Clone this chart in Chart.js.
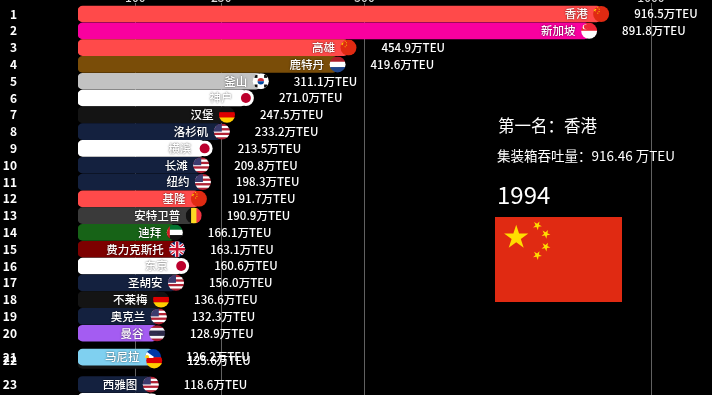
<!DOCTYPE html>
<html>
<head>
<meta charset="utf-8">
<title>集装箱吞吐量 1994</title>
<script src="https://cdn.jsdelivr.net/npm/chart.js@4/dist/chart.umd.min.js"></script>
<style>
    html, body { margin: 0; padding: 0; width: 712px; height: 395px; background: #000; overflow: hidden; }
    body { position: relative; font-family: "Noto Sans CJK SC", sans-serif; color: #fff; }
    #grafica { position: absolute; left: 0; top: -20px; }
    .info { position: absolute; white-space: nowrap; line-height: 1; }
</style>
</head>
<body>
<canvas id="grafica" width="712" height="430"></canvas>
<div class="info" style="left:498px;top:117px;font-size:16.5px">第一名：香港</div>
<div class="info" style="left:497px;top:149px;font-size:13.5px">集装箱吞吐量：916.46 万TEU</div>
<div class="info" style="left:497px;top:182px;font-size:24px">1994</div>
<script>
// Datos. Rank 22 va antes que 21 porque la barra de Manila queda encima
const ranks = [1, 2, 3, 4, 5, 6, 7, 8, 9, 10, 11, 12, 13, 14, 15, 16, 17, 18, 19, 20, 22, 21, 23, 24];
const cities = ['香港', '新加坡', '高雄', '鹿特丹', '釜山', '神户', '汉堡', '洛杉矶', '横滨', '长滩', '纽约', '基隆', '安特卫普', '迪拜', '费力克斯托', '东京', '圣胡安', '不莱梅', '奥克兰', '曼谷', '', '马尼拉', '西雅图', ''];
const countries = ['cn', 'sg', 'cn', 'nl', 'kr', 'jp', 'de', 'us', 'jp', 'us', 'us', 'cn', 'be', 'ae', 'gb', 'jp', 'us', 'de', 'us', 'th', 'de', 'ph', 'us', 'jp'];
// valor mostrado en la etiqueta (万TEU)
const throughput = [916.5, 891.8, 454.9, 419.6, 311.1, 271.0, 247.5, 233.2, 213.5, 209.8, 198.3, 191.7, 190.9, 166.1, 163.1, 160.6, 156.0, 136.6, 132.3, 128.9, 125.6, 126.2, 118.6, null];
// el cuadro esta a mitad de animacion: largo real de cada barra y su fila
const barLengths = [913, 892, 472, 453, 319, 293, 260, 251, 221, 215, 218, 211, 202, 169, 173, 180, 171, 145, 141, 138, 133, 131, 127, 128];
const rowPositions = [1, 2, 3, 4, 5, 6, 7, 8, 9, 10, 11, 12, 13, 14, 15, 16, 17, 18, 19, 20, 21.62, 21.42, 23.05, 24.05];
const tickValues = [100, 250, 500, 1000];

const countryColors = { cn: '#ff4a4a', sg: '#f9009f', nl: '#7a4d08', kr: '#c2c2c2', jp: '#ffffff', de: '#141414', us: '#14213f', be: '#3a3a3a', ae: '#176317', gb: '#7d0000', th: '#a45cf2', ph: '#7fd0f0' };

const fuente = '"Noto Sans CJK SC", sans-serif';

function estrella(ctx, cx, cy, r, giro) {
    ctx.beginPath();
    for (let i = 0; i < 10; i++) {
        const rad = i % 2 === 0 ? r : r * 0.38;
        const ang = -Math.PI / 2 + giro + i * Math.PI / 5;
        ctx.lineTo(cx + rad * Math.cos(ang), cy + rad * Math.sin(ang));
    }
    ctx.closePath();
    ctx.fill();
}

function franjas(ctx, x, y, w, h, colores) {
    colores.forEach(function(c, i) {
        ctx.fillStyle = c;
        ctx.fillRect(x, y + h * i / colores.length, w, h / colores.length + 0.5);
    });
}

// Dibuja la bandera de cada pais en el rectangulo dado
function bandera(ctx, code, x, y, w, h) {
    if (code === 'cn') {
        ctx.fillStyle = '#e02a12';
        ctx.fillRect(x, y, w, h);
        ctx.fillStyle = '#ffdd00';
        estrella(ctx, x + w * 0.167, y + h * 0.24, h * 0.15, 0);
        [[0.333, 0.1], [0.4, 0.2], [0.4, 0.35], [0.333, 0.45]].forEach(function(p) {
            estrella(ctx, x + w * p[0], y + h * p[1], h * 0.055, 0.5);
        });
    } else if (code === 'sg') {
        franjas(ctx, x, y, w, h, ['#ee2536', '#ffffff']);
        ctx.fillStyle = '#fff';
        ctx.beginPath();
        ctx.arc(x + w * 0.3, y + h * 0.25, h * 0.16, 0, Math.PI * 2);
        ctx.fill();
        ctx.fillStyle = '#ee2536';
        ctx.beginPath();
        ctx.arc(x + w * 0.35, y + h * 0.25, h * 0.15, 0, Math.PI * 2);
        ctx.fill();
    } else if (code === 'nl') {
        franjas(ctx, x, y, w, h, ['#ae1c28', '#ffffff', '#21468b']);
    } else if (code === 'de') {
        franjas(ctx, x, y, w, h, ['#111111', '#dd0000', '#ffce00']);
    } else if (code === 'th') {
        franjas(ctx, x, y, w, h, ['#a51931', '#f4f5f8', '#2d2a4a', '#2d2a4a', '#f4f5f8', '#a51931']);
    } else if (code === 'kr') {
        ctx.fillStyle = '#fff';
        ctx.fillRect(x, y, w, h);
        const cx = x + w / 2, cy = y + h / 2, r = h * 0.2;
        ctx.fillStyle = '#cd2e3a';
        ctx.beginPath();
        ctx.arc(cx, cy, r, Math.PI, 0);
        ctx.fill();
        ctx.fillStyle = '#0047a0';
        ctx.beginPath();
        ctx.arc(cx, cy, r, 0, Math.PI);
        ctx.fill();
        ctx.fillStyle = '#111';
        [[-0.3, -0.3], [0.3, -0.3], [-0.3, 0.3], [0.3, 0.3]].forEach(function(p) {
            ctx.fillRect(cx + h * p[0] - 1.5, cy + h * p[1] - 1.5, 3, 3);
        });
    } else if (code === 'jp') {
        ctx.fillStyle = '#fff';
        ctx.fillRect(x, y, w, h);
        ctx.fillStyle = '#bc002d';
        ctx.beginPath();
        ctx.arc(x + w / 2, y + h / 2, h * 0.31, 0, Math.PI * 2);
        ctx.fill();
    } else if (code === 'us') {
        for (let i = 0; i < 7; i++) {
            ctx.fillStyle = i % 2 === 0 ? '#b22234' : '#ffffff';
            ctx.fillRect(x, y + h * i / 7, w, h / 7 + 0.5);
        }
        ctx.fillStyle = '#3c3b6e';
        ctx.fillRect(x, y, w * 0.5, h * 0.5);
    } else if (code === 'be') {
        ctx.fillStyle = '#111';
        ctx.fillRect(x, y, w / 3 + 1, h);
        ctx.fillStyle = '#fdda24';
        ctx.fillRect(x + w / 3, y, w / 3 + 1, h);
        ctx.fillStyle = '#ef3340';
        ctx.fillRect(x + w * 2 / 3, y, w / 3, h);
    } else if (code === 'ae') {
        franjas(ctx, x, y, w, h, ['#00732f', '#ffffff', '#111111']);
        ctx.fillStyle = '#d01c1f';
        ctx.fillRect(x, y, w * 0.25, h);
    } else if (code === 'gb') {
        ctx.fillStyle = '#012169';
        ctx.fillRect(x, y, w, h);
        ctx.strokeStyle = '#fff';
        ctx.lineWidth = h * 0.2;
        ctx.beginPath();
        ctx.moveTo(x, y); ctx.lineTo(x + w, y + h);
        ctx.moveTo(x + w, y); ctx.lineTo(x, y + h);
        ctx.stroke();
        ctx.strokeStyle = '#c8102e';
        ctx.lineWidth = h * 0.08;
        ctx.stroke();
        ctx.fillStyle = '#fff';
        ctx.fillRect(x, y + h * 0.36, w, h * 0.28);
        ctx.fillRect(x + w / 2 - h * 0.14, y, h * 0.28, h);
        ctx.fillStyle = '#c8102e';
        ctx.fillRect(x, y + h * 0.42, w, h * 0.16);
        ctx.fillRect(x + w / 2 - h * 0.08, y, h * 0.16, h);
    } else if (code === 'ph') {
        franjas(ctx, x, y, w, h, ['#0038a8', '#ce1126']);
        ctx.fillStyle = '#fff';
        ctx.beginPath();
        ctx.moveTo(x, y);
        ctx.lineTo(x + w * 0.55, y + h / 2);
        ctx.lineTo(x, y + h);
        ctx.closePath();
        ctx.fill();
        ctx.fillStyle = '#fcd116';
        ctx.beginPath();
        ctx.arc(x + w * 0.2, y + h / 2, h * 0.13, 0, Math.PI * 2);
        ctx.fill();
    }
}

// Numero de fila, bandera redonda, nombre y valor de cada barra
const etiquetas = {
    id: 'etiquetas',
    afterDatasetsDraw: function(chart) {
        const ctx = chart.ctx;
        const xs = chart.scales.x;
        const ys = chart.scales.y;
        for (let i = 0; i < ranks.length; i++) {
            const px = xs.getPixelForValue(barLengths[i]);
            const py = ys.getPixelForValue(rowPositions[i]);
            const ancho = countries[i] === 'be' ? 16 : 20;

            ctx.save();
            ctx.beginPath();
            ctx.arc(px, py, 8, 0, Math.PI * 2);
            ctx.clip();
            // Manila solo tapa la mitad de arriba de la bandera de la fila 22
            if (countries[i] === 'ph') {
                ctx.beginPath();
                ctx.rect(px - 8, py - 8, 16, 9);
                ctx.clip();
            }
            bandera(ctx, countries[i], px - ancho / 2, py - 8, ancho, 16);
            ctx.restore();

            ctx.save();
            ctx.textBaseline = 'middle';
            ctx.fillStyle = '#fff';
            ctx.font = '700 12px ' + fuente;
            ctx.textAlign = 'right';
            ctx.fillText(String(ranks[i]), 17, py);

            ctx.font = '500 11.5px ' + fuente;
            ctx.shadowColor = 'rgba(0,0,0,0.7)';
            ctx.shadowBlur = 2;
            if (cities[i] !== '') {
                ctx.fillText(cities[i], px - 13.5, py);
            }
            ctx.shadowBlur = 0;
            if (throughput[i] !== null) {
                ctx.textAlign = 'left';
                ctx.fillText(throughput[i].toFixed(1) + '万TEU', px + 33, py);
            }
            ctx.restore();
        }

        // Bandera grande del primer lugar
        bandera(ctx, countries[0], 495, 237, 127, 85);
    }
};

const grafica = new Chart(document.getElementById('grafica'), {
    type: 'bar',
    data: {
        datasets: [{
            data: barLengths.map(function(v, i) { return { x: v, y: rowPositions[i] }; }),
            backgroundColor: countries.map(function(c) { return countryColors[c]; }),
            barThickness: 16,
            borderRadius: 5,
            borderSkipped: false
        }]
    },
    options: {
        indexAxis: 'y',
        responsive: false,
        animation: false,
        layout: { padding: { left: 78, right: 61, top: 0, bottom: 0 } },
        plugins: { legend: { display: false }, tooltip: { enabled: false } },
        scales: {
            x: {
                type: 'linear',
                position: 'top',
                min: 0,
                max: 1000,
                // la escala termina en y=3 de la pagina, el resto de los numeros queda cortado arriba
                afterFit: function(scale) { scale.height = 23; },
                afterBuildTicks: function(scale) {
                    scale.ticks = tickValues.map(function(v) { return { value: v }; });
                },
                grid: { color: 'rgba(255,255,255,0.38)', lineWidth: 1, tickLength: 0 },
                border: { display: false },
                ticks: {
                    color: '#ddd',
                    autoSkip: false,
                    maxRotation: 0,
                    padding: -2,
                    font: { family: fuente, size: 12, weight: '500' },
                    callback: function(v) { return String(v); }
                }
            },
            y: {
                type: 'linear',
                display: false,
                reverse: true,
                offset: false,
                min: 0.345,
                max: 24.57,
                grid: { display: false }
            }
        }
    },
    plugins: [etiquetas]
});
</script>
</body>
</html>
